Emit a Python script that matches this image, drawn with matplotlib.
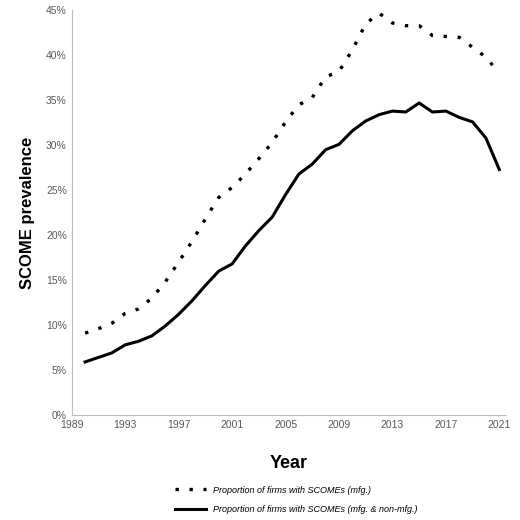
import matplotlib.pyplot as plt
from matplotlib.ticker import PercentFormatter

plt.rcParams['font.family'] = ['Liberation Sans', 'DejaVu Sans']

years = list(range(1990, 2022))
mfg = [9.1, 9.6, 10.2, 11.3, 11.8, 13.0, 14.8, 17.0, 19.3, 21.8, 24.2, 25.3, 26.8, 28.5,
       30.3, 32.6, 34.5, 35.3, 37.6, 38.2, 40.6, 43.5, 44.7, 43.6, 43.3, 43.3, 42.2, 42.1,
       42.0, 40.9, 39.8, 38.0]
all_firms = [5.9, 6.4, 6.9, 7.8, 8.2, 8.8, 9.9, 11.2, 12.7, 14.4, 16.0, 16.8, 18.8, 20.5,
             22.0, 24.5, 26.8, 27.9, 29.5, 30.1, 31.6, 32.7, 33.4, 33.8, 33.7, 34.7, 33.7,
             33.8, 33.1, 32.6, 30.8, 27.3]
xticks = list(range(1989, 2022, 4))

fig = plt.figure(figsize=(5.2, 5.2), dpi=100)
ax = fig.add_axes([0.138, 0.202, 0.835, 0.778])
ax.plot(years, mfg, color='black', linestyle=(0, (1, 3.2)), linewidth=2.4,
        label='Proportion of firms with SCOMEs (mfg.)')
ax.plot(years, all_firms, color='black', linewidth=2.2,
        label='Proportion of firms with SCOMEs (mfg. & non-mfg.)')

ax.set_xlim(1989, 2021.5)
ax.set_ylim(0, 45)
ax.set_xticks(xticks)
ax.set_yticks(range(0, 46, 5))
ax.yaxis.set_major_formatter(PercentFormatter(decimals=0))
ax.tick_params(labelsize=7.5, colors='#595959', length=0)
for s in ['top', 'right']:
    ax.spines[s].set_visible(False)
for s in ['left', 'bottom']:
    ax.spines[s].set_color('#bfbfbf')

ax.set_xlabel('Year', fontsize=13, fontweight='bold', labelpad=18)
ax.set_ylabel('SCOME prevalence', fontsize=12, fontweight='bold', labelpad=8)

fig.legend(loc='lower left', bbox_to_anchor=(0.32, -0.005), frameon=False,
           prop={'size': 6.5, 'style': 'italic'}, handlelength=3.5, labelspacing=1.2)

fig.savefig('out.png', dpi=100)
